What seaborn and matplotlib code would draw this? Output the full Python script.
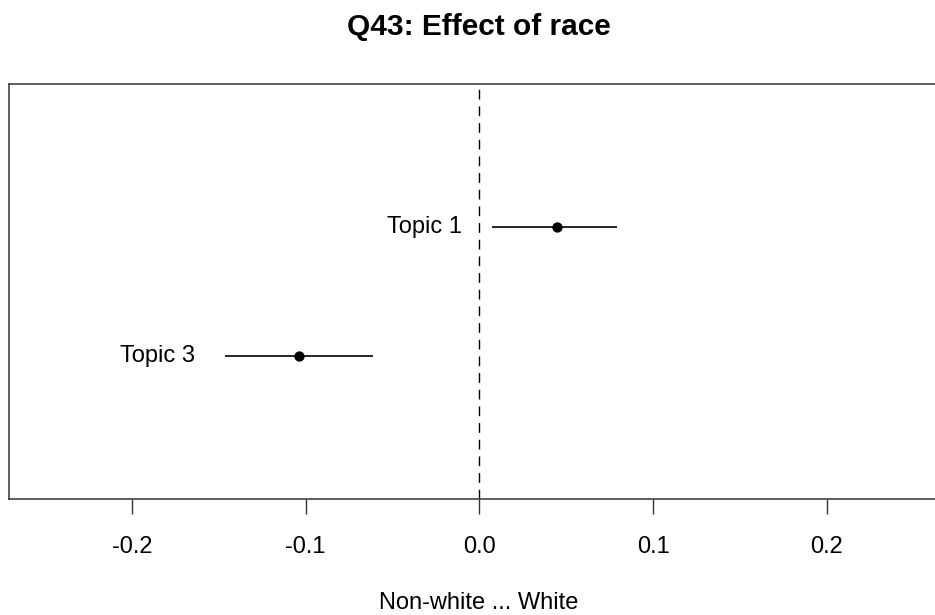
import pandas as pd
import seaborn as sns
import matplotlib
matplotlib.use('Agg')
import matplotlib.pyplot as plt

# data
topics = ['Topic 1', 'Topic 3']
estimate = [0.0448, -0.1039]
ci_lower = [0.0073, -0.1464]
ci_upper = [0.0793, -0.0613]
ypos = [2, 1]
xticks = [-0.2, -0.1, 0.0, 0.1, 0.2]
xtick_labels = ['-0.2', '-0.1', '0.0', '0.1', '0.2']

df = pd.DataFrame({'topic': topics, 'est': estimate, 'lo': ci_lower,
                   'hi': ci_upper, 'y': ypos})

sns.set_style('white')
plt.rcParams['font.family'] = ['Liberation Sans', 'DejaVu Sans']
plt.rcParams['text.color'] = 'black'
plt.rcParams['xtick.color'] = 'black'

fig = plt.figure(figsize=(9.35, 6.15), dpi=100)
# right edge of the plot box lies past the picture, as in the reference
ax = fig.add_axes([9 / 935, 116 / 615, 940.7 / 935, 415 / 615])

ax.axvline(0, color='black', lw=1, ls=(0, (7, 5)))
ax.hlines(df['y'], df['lo'], df['hi'], color='black', lw=1.2)
sns.scatterplot(data=df, x='est', y='y', ax=ax, color='black', s=55,
                edgecolor='black', linewidth=0, zorder=3)

for _, r in df.iterrows():
    ax.annotate(r['topic'], (r['lo'], r['y']), xytext=(-21.5, 0),
                textcoords='offset points', ha='right', va='center',
                fontsize=17, color='black')

ax.set_xlim(-0.2707, 0.2707)
ax.set_ylim(-0.12, 3.12)
ax.set_xticks(xticks)
ax.set_xticklabels(xtick_labels, fontsize=17, color='black')
ax.set_yticks([])
ax.tick_params(axis='x', bottom=True, length=10.8, width=1, color='#333333',
               pad=16, direction='out')
ax.set_xlabel('')
ax.set_ylabel('')
for sp in ax.spines.values():
    sp.set_color('#333333')
    sp.set_linewidth(1.1)

fig.text(479 / 935, 1 - 35 / 615, 'Q43: Effect of race', ha='center',
         va='baseline', fontsize=21.5, fontweight='bold', color='black')
fig.text(479 / 935, 1 - 609 / 615, 'Non-white ... White', ha='center',
         va='baseline', fontsize=17, color='black')

fig.savefig('out.png', dpi=100)
